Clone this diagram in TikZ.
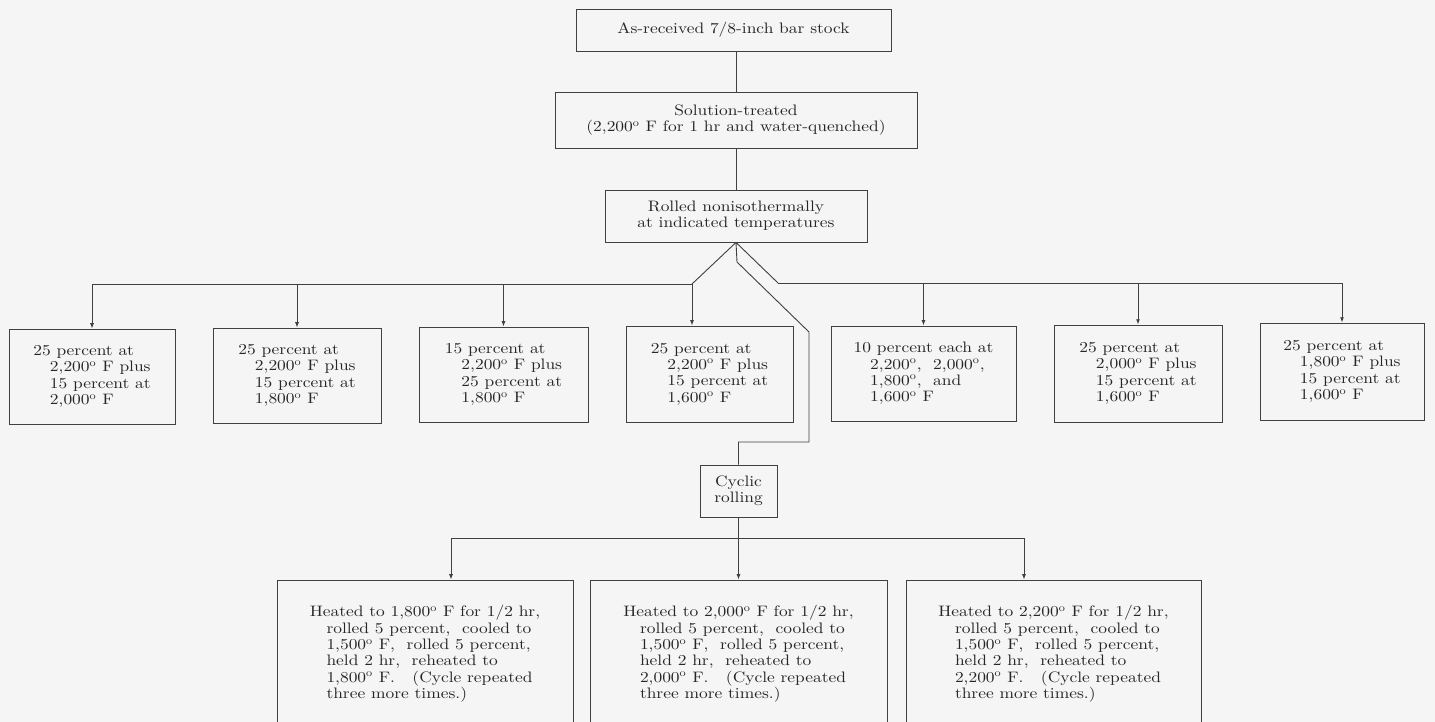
\documentclass[tikz,border=0pt]{standalone}
\usepackage{fontspec}
\setmainfont{lmroman10-regular.otf}[FakeStretch=1.15]
\usepackage{tikz}
\usetikzlibrary{arrows.meta,calc}

\newcommand{\dg}{\textsuperscript{o}}
\newcommand{\ind}{\hspace*{1.1em}}

\begin{document}
\begin{tikzpicture}[x=0.66pt,y=-0.66pt,
    box/.style={draw=black!75, line width=0.6pt, inner sep=2pt, text=black!85,
      font=\fontsize{10}{10.8}\selectfont},
    lft/.style={box, align=left},
    ctr/.style={box, align=center},
    wire/.style={draw=black!75, line width=0.6pt},
    >={Latex[length=3.5pt,width=2.6pt]}]
  \fill[black!4] (0,0) rectangle (1435,722);
  \useasboundingbox (0,0) rectangle (1435,722);

      % TOP CHAIN
      \node[ctr, minimum width=207.9pt, minimum height=27.7pt] (stock) at (733.5,30)
        {As-received 7/8-inch bar stock};
      \node[ctr, minimum width=238.9pt, minimum height=37pt] (sol) at (736,120)
        {Solution-treated\\(2,200\dg{} F for 1 hr and water-quenched)};
      \node[ctr, minimum width=172.9pt, minimum height=34.3pt] (roll) at (736,216)
        {Rolled nonisothermally\\at indicated temperatures};

      % ROLLING SCHEDULES
      \node[lft, minimum width=109.6pt, minimum height=62.7pt] (b1) at (92,376.5)
        {25 percent at\\\ind 2,200\dg{} F plus\\\ind 15 percent at\\\ind 2,000\dg{} F};
      \node[lft, minimum width=110.9pt, minimum height=62.7pt] (b2) at (297,375.5)
        {25 percent at\\\ind 2,200\dg{} F plus\\\ind 15 percent at\\\ind 1,800\dg{} F};
      \node[lft, minimum width=111.5pt, minimum height=62.7pt] (b3) at (503.5,374.5)
        {15 percent at\\\ind 2,200\dg{} F plus\\\ind 25 percent at\\\ind 1,800\dg{} F};
      \node[lft, minimum width=110.2pt, minimum height=63.4pt] (b4) at (709.5,374)
        {25 percent at\\\ind 2,200\dg{} F plus\\\ind 15 percent at\\\ind 1,600\dg{} F};
      \node[lft, minimum width=122.1pt, minimum height=62.7pt] (b5) at (923.5,373.5)
        {10 percent each at\\\ind 2,200\dg,\ \ 2,000\dg,\\\ind 1,800\dg, \ and\\\ind 1,600\dg{} F};
      \node[lft, minimum width=110.9pt, minimum height=64pt] (b6) at (1138,373.5)
        {25 percent at\\\ind 2,000\dg{} F plus\\\ind 15 percent at\\\ind 1,600\dg{} F};
      \node[lft, minimum width=108.2pt, minimum height=64pt] (b7) at (1342,371.5)
        {25 percent at\\\ind 1,800\dg{} F plus\\\ind 15 percent at\\\ind 1,600\dg{} F};

      % CYCLIC
      \node[ctr, minimum width=50.8pt, minimum height=34.3pt] (cyc) at (738.5,491)
        {Cyclic\\rolling};
      \node[lft, minimum width=195.4pt, minimum height=97.7pt] (c1) at (425,654)
        {Heated to 1,800\dg{} F for 1/2 hr,\\\ind rolled 5 percent, \ cooled to\\\ind 1,500\dg{} F, \ rolled 5 percent,\\\ind held 2 hr, \ reheated to\\\ind 1,800\dg{} F. \ \ (Cycle repeated\\\ind three more times.)};
      \node[lft, minimum width=196pt, minimum height=97.7pt] (c2) at (738.5,654)
        {Heated to 2,000\dg{} F for 1/2 hr,\\\ind rolled 5 percent, \ cooled to\\\ind 1,500\dg{} F, \ rolled 5 percent,\\\ind held 2 hr, \ reheated to\\\ind 2,000\dg{} F. \ \ (Cycle repeated\\\ind three more times.)};
      \node[lft, minimum width=194.7pt, minimum height=97.7pt] (c3) at (1053.5,654)
        {Heated to 2,200\dg{} F for 1/2 hr,\\\ind rolled 5 percent, \ cooled to\\\ind 1,500\dg{} F, \ rolled 5 percent,\\\ind held 2 hr, \ reheated to\\\ind 2,200\dg{} F. \ \ (Cycle repeated\\\ind three more times.)};

      % JUNCTIONS
      \coordinate (lj) at (692,284);
      \coordinate (rj) at (778,283);
      \coordinate (bj) at (738.5,538);
      \coordinate (c1d) at (451,538);
      \coordinate (c3d) at (1024,538);

      % TRAITS
      \draw[wire] (sol.north) -- (sol.north |- stock.south);
      \draw[wire] (roll.north) -- (roll.north |- sol.south);
      \draw[wire] (roll.south) -- (lj);
      \draw[wire] (roll.south) -- (rj);
      \draw[wire,->] (lj) -| (b1.north);
      \draw[wire,->] (lj) -| (b2.north);
      \draw[wire,->] (lj) -| (b3.north);
      \draw[wire,->] (lj) -- (lj |- b4.north);
      \draw[wire,->] (rj) -| (b5.north);
      \draw[wire,->] (rj) -| (b6.north);
      \draw[wire,->] (rj) -| (b7.north);
      \draw[wire] (roll.south) -- (737,262) -- (809,332) -- (809,442) -| (cyc.north);
      \draw[wire] (cyc.south) -- (bj);
      \draw[wire,->] (bj) -- (bj |- c2.north);
      \draw[wire,->] (bj) -- (c1d) -- (c1d |- c1.north);
      \draw[wire,->] (bj) -- (c3d) -- (c3d |- c3.north);
\end{tikzpicture}
\end{document}
